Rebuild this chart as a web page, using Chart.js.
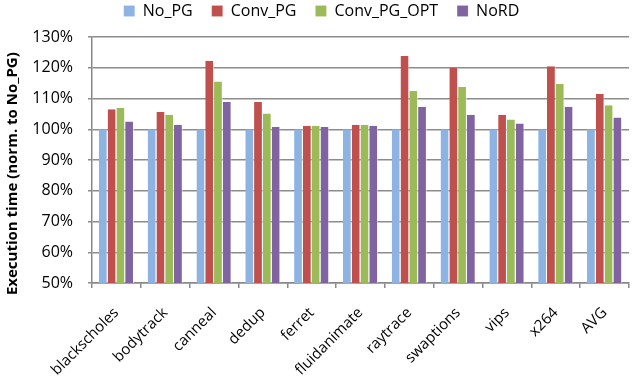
<!DOCTYPE html>
<html>
<head>
<meta charset="utf-8">
<script src="https://cdn.jsdelivr.net/npm/chart.js@4/dist/chart.umd.min.js"></script>
<style>
  html, body { margin: 0; padding: 0; background: #fff; }
  #wrap { width: 636px; height: 383px; }
</style>
</head>
<body>
<div id="wrap"><canvas id="c" width="636" height="383"></canvas></div>
<script>
// Benchmarks and execution time normalized to No_PG (percent)
const categories = ['blackscholes', 'bodytrack', 'canneal', 'dedup', 'ferret', 'fluidanimate',
                    'raytrace', 'swaptions', 'vips', 'x264', 'AVG'];
const noPG      = [100, 100, 100, 100, 100, 100, 100, 100, 100, 100, 100];
const convPG    = [106.5, 105.6, 122.3, 108.9, 101.1, 101.5, 123.8, 120.0, 104.7, 120.5, 111.5];
const convPGOpt = [107.0, 104.7, 115.5, 105.1, 101.1, 101.5, 112.4, 113.7, 103.2, 114.7, 107.8];
const noRD      = [102.5, 101.5, 108.9, 100.7, 100.7, 101.1, 107.3, 104.7, 101.9, 107.3, 103.8];
const yTicks    = [50, 60, 70, 80, 90, 100, 110, 120, 130];

const FONT = '"Open Sans", Lato, sans-serif';
const LEGEND_PAD = 19;
const mk = (label, data, color) => ({
  label, data, backgroundColor: color, borderColor: 'rgba(255,255,255,0.6)', borderWidth: { right: 1 },
  barPercentage: 1.0, categoryPercentage: 0.72
});

// Wide gaps between legend entries but a compact legend band at the top
const legendBand = {
  id: 'legendBand',
  afterInit(chart) {
    const lg = chart.legend;
    if (!lg || lg._bandWrapped) return;
    const fit = lg.fit.bind(lg);
    lg.fit = function () { fit(); this.height = 37; };
    lg._bandWrapped = true;
  },
  afterLayout(chart) {
    const lg = chart.legend;
    if (!lg) return;
    lg.top = 11 - LEGEND_PAD - 8;
    lg.left += 5;
    lg.right += 5;
  }
};

new Chart(document.getElementById('c'), {
  type: 'bar',
  data: {
    labels: categories,
    datasets: [
      mk('No_PG', noPG, '#8DB3E2'),
      mk('Conv_PG', convPG, '#C0504D'),
      mk('Conv_PG_OPT', convPGOpt, '#9BBB59'),
      mk('NoRD', noRD, '#8064A2')
    ]
  },
  plugins: [legendBand],
  options: {
    responsive: false,
    animation: false,
    devicePixelRatio: 1,
    layout: { padding: { top: 0, right: 7, left: 4, bottom: 0 } },
    plugins: {
      legend: {
        position: 'top',
        labels: {
          font: { family: FONT, size: 16 },
          color: '#000',
          boxWidth: 11, boxHeight: 11,
          padding: LEGEND_PAD
        }
      },
      tooltip: { enabled: false }
    },
    scales: {
      x: {
        offset: true,
        grid: { display: true, drawOnChartArea: false, offset: true, color: '#888', lineWidth: 1.5, tickLength: 5 },
        border: { color: '#888', width: 1.5 },
        ticks: {
          font: { family: FONT, size: 15 }, color: '#000',
          maxRotation: 45, minRotation: 45, autoSkip: false, padding: 16
        },
        afterFit: (s) => { s.height = 100; }
      },
      y: {
        min: 50, max: 130,
        afterBuildTicks: (s) => { s.ticks = yTicks.map(v => ({ value: v })); },
        grid: { color: '#8c8c8c', lineWidth: 1.5, tickLength: 4 },
        border: { color: '#888', width: 1.5 },
        ticks: {
          font: { family: FONT, size: 16 }, color: '#000',
          callback: (v) => v + '%', padding: 15
        },
        title: {
          display: true,
          text: 'Execution time (norm. to No_PG)' + '\u00A0'.repeat(7),
          font: { family: FONT, size: 15, weight: 'bold' }, color: '#000', padding: { top: 0, bottom: 0 }
        },
        afterFit: (s) => { s.width = 88; }
      }
    }
  }
});
</script>
</body>
</html>
